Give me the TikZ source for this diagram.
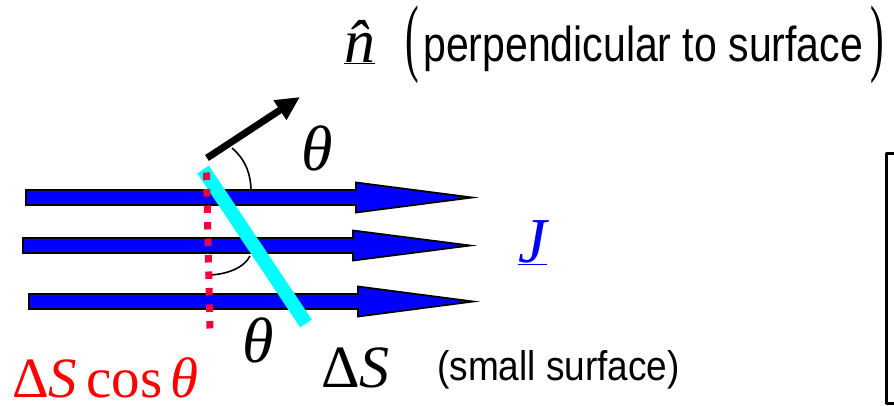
\documentclass[tikz,border=0pt]{standalone}
\usepackage{fontspec}
\usepackage{graphicx}
\setmainfont{Liberation Serif}
\newfontfamily\arialfont{Liberation Sans}
\usetikzlibrary{arrows.meta}
\definecolor{dotred}{RGB}{245,0,60}
\definecolor{surfcyan}{RGB}{0,255,255}
\newcommand{\fs}[1]{\fontsize{#1}{#1}\selectfont}

\begin{document}
\begin{tikzpicture}[x=1pt, y=-1pt, line join=round,
		flux/.style={fill=blue, draw=black, line width=1.8pt, line join=miter},
		angarc/.style={line width=1.6pt},
		ang/.style={font=\fs{64}\itshape, inner sep=0pt},
		lbl/.style={anchor=base west, inner sep=0pt}]
	\useasboundingbox (0,0) rectangle (894,405);
	% flux lines
	\foreach \xa/\xh/\xt/\yc in {26/356/472/197.5, 23/353/470/245.5, 29/358/473/301.5}
		\draw[flux] (\xa,\yc-7.5) -- (\xh,\yc-7.5) -- (\xh,\yc-15) -- (\xt,\yc) -- (\xh,\yc+15) -- (\xh,\yc+7.5) -- (\xa,\yc+7.5) -- cycle;
	% small surface and its normal
	\draw[surfcyan, line width=14pt] (203,169.5) -- (306,323.5);
	\draw[line width=7pt, -{Triangle[length=24pt, width=22pt]}] (207,158) -- (300,97);
	\draw[angarc] (232,148) .. controls (246,160) and (251,175) .. (251,191);
	\draw[angarc] (207,275) .. controls (226,275) and (244,268) .. (250,256);
	\draw[dotred, line width=7pt, dash pattern=on 7.5pt off 9pt] (206.5,172.5) -- (210,329);
	% labels
	\node[ang] (thetaA) at (317,148) {θ};
	\node[ang] (thetaB) at (258,340) {θ};
	\node[lbl, font=\fs{57}, text=red] (dScos) at (12,397) {Δ\textit{S}\kern9pt cos\kern8pt\textit{θ}};
	\node[lbl, font=\fs{60}] (dS) at (321,387) {Δ\textit{S}};
	\node[lbl, font=\arialfont\fs{37}] (small) at (437,380) {\scalebox{1}[1.12]{(small surface)}};
	\node[lbl, font=\fs{64}\itshape, text=blue] (J) at (518,262) {\underline{J}};
	\node[lbl, font=\fs{62}\itshape] (nhat) at (344,62) {\underline{\^{n}}};
	\node[font=\fs{41}, inner sep=0pt] (lpar) at (412,45) {\scalebox{1}[2.1]{(}};
	\node[lbl, font=\arialfont\fs{41}] (perp) at (423,61) {\scalebox{1}[1.2]{perpendicular to surface}};
	\node[font=\fs{41}, inner sep=0pt] (rpar) at (877,45) {\scalebox{1}[2.1]{)}};
	% box at the right
	\draw[line width=3pt] (886,153) rectangle (920,403);
\end{tikzpicture}
\end{document}
